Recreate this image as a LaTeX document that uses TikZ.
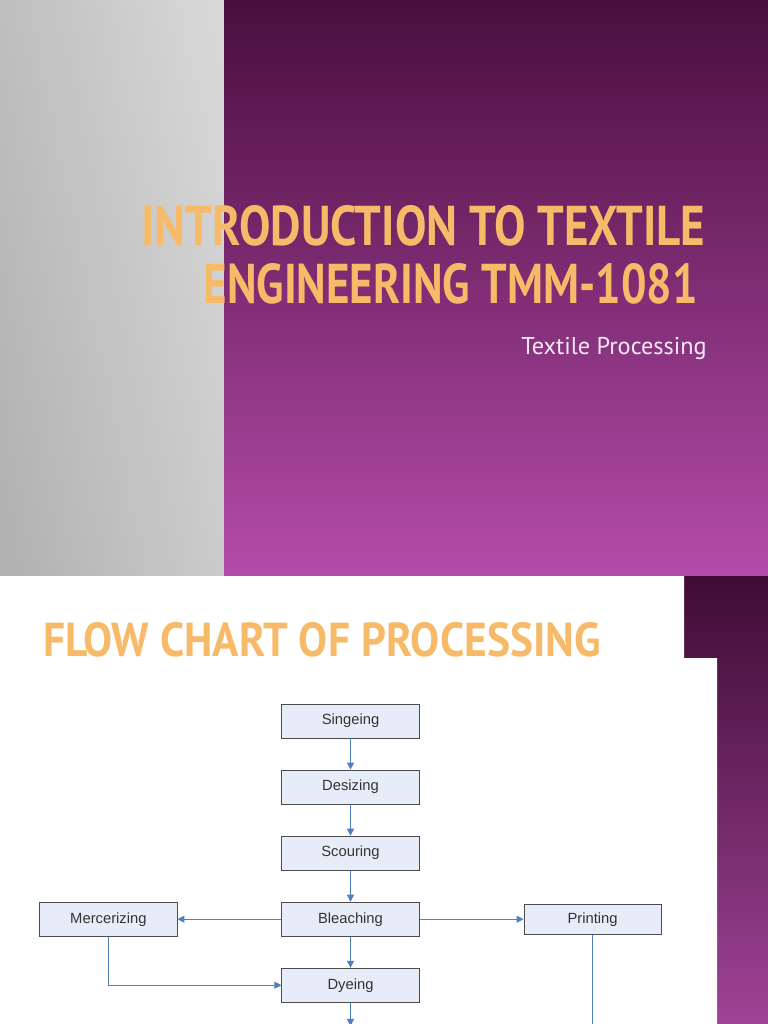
\documentclass[tikz,border=0pt]{standalone}
\usepackage{fontspec}
\setmainfont{Liberation Sans}
\newfontfamily\titlefont{PT Sans}
\usetikzlibrary{arrows.meta, positioning, shadows}

\definecolor{plumdark}{RGB}{74,14,62}
\definecolor{plumlight}{RGB}{180,76,170}
\definecolor{titleorange}{RGB}{247,186,104}
\definecolor{subtitlepink}{RGB}{246,232,246}
\definecolor{boxfill}{RGB}{231,237,248}
\definecolor{flowblue}{RGB}{79,129,189}

\begin{document}
\begin{tikzpicture}[
    x=0.025cm, y=-0.025cm,
    >={Triangle[length=5pt, width=5pt]},
    stage/.style = {draw=black!70, line width=0.6pt, fill=boxfill, minimum width=3.43cm, minimum height=0.85cm,
                    inner sep=0pt, text=black!80, font=\fontsize{10.5}{12}\selectfont,
                    drop shadow={shadow xshift=0.8pt, shadow yshift=-0.8pt, fill=black!60, opacity=0.7}},
    flow/.style  = {->, draw=flowblue, line width=0.8pt},
    node distance = 0.78cm and 2.6cm
]
    \useasboundingbox (0,0) rectangle (768,1024);

    % title slide
    \shade[top color=gray!45, middle color=gray!8, bottom color=gray!62] (0,0) rectangle (224,576);
    \shade[left color=gray!60, right color=white, opacity=0.35] (0,0) rectangle (224,576);
    \shade[top color=plumdark, bottom color=plumlight] (224,0) rectangle (768,576);

    \node[anchor=south west, inner sep=0pt, text=titleorange] (title) at (141,247)
        {\resizebox{14.1cm}{1.0cm}{\titlefont\bfseries INTRODUCTION TO TEXTILE}};
    \node[anchor=south east, inner sep=0pt, text=titleorange] (titletwo) at (698,305)
        {\resizebox{12.35cm}{1.0cm}{\titlefont\bfseries ENGINEERING TMM-1081}};
    \node[anchor=base east, inner sep=0pt, text=subtitlepink] (subtitle) at (707,354)
        {\resizebox{4.63cm}{!}{\titlefont Textile Processing}};

    % flow chart slide
    \shade[top color=plumdark!85!black, bottom color=plumlight!88!black] (0,576) rectangle (768,1024);
    \fill[white] (0,576) -- (684,576) -- (684,658) -- (717,658) -- (717,1024) -- (0,1024) -- cycle;

    \node[anchor=south west, inner sep=0pt, text=titleorange] (flowtitle) at (43,657)
        {\resizebox{13.93cm}{0.85cm}{\titlefont\bfseries FLOW CHART OF PROCESSING}};

    \node[stage] (singe) at (350.5,721) {Singeing};
    \node[stage, below=of singe] (desize) {Desizing};
    \node[stage, below=of desize] (scour) {Scouring};
    \node[stage, below=of scour] (bleach) {Bleaching};
    \node[stage, below=of bleach] (dye) {Dyeing};
    \node[stage, left=of bleach] (mercer) {Mercerizing};
    \node[stage, right=of bleach, minimum height=0.75cm] (print) {Printing};

    \coordinate (nextstep) at (350.5,1026);
    \coordinate (printdown) at (print.south |- 0,1030);

    \draw[flow] (singe) -- (desize);
    \draw[flow] (desize) -- (scour);
    \draw[flow] (scour) -- (bleach);
    \draw[flow] (bleach) -- (dye);
    \draw[flow] (bleach) -- (mercer);
    \draw[flow] (bleach) -- (print);
    \draw[flow] (mercer.south) |- (dye.west);
    \draw[flow] (dye) -- (nextstep);
    \draw[flowblue, line width=0.8pt] (print.south) -- (printdown);
\end{tikzpicture}
\end{document}
